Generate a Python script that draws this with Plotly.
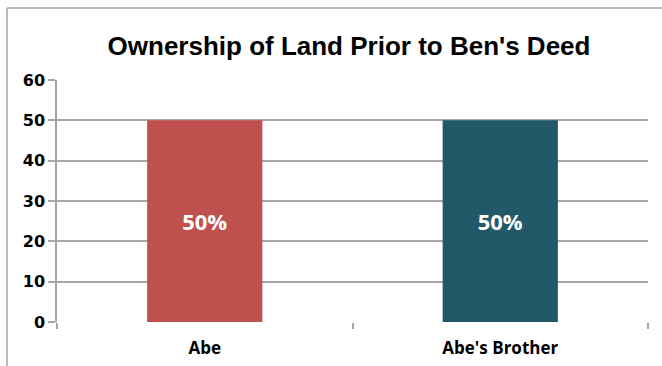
import plotly.graph_objects as go

categories = ["Abe", "Abe's Brother"]
values = [50, 50]
labels = ["50%", "50%"]
colors = ["#C0504D", "#215968"]
title = "Ownership of Land Prior to Ben's Deed"

fig = go.Figure()
fig.add_trace(go.Bar(
    x=categories, y=values, text=labels,
    marker=dict(color=colors, line=dict(width=0)),
    width=0.39,
    textposition="inside", insidetextanchor="middle",
    textfont=dict(family="Open Sans", size=22, color="white"),
    texttemplate="<b>%{text}</b>",
    hoverinfo="skip",
))

L, R, T, B = 57, 14, 80, 44
W, H = 662, 366
pw, ph = W - L - R, H - T - B

def px(x):
    return (x - L) / pw

def py(y):
    return (H - B - y) / ph

fig.update_layout(
    width=W, height=H,
    margin=dict(l=L, r=R, t=T, b=B, autoexpand=False),
    paper_bgcolor="white", plot_bgcolor="white",
    showlegend=False,
    title=dict(text="<b>" + title + "</b>", x=(100 + 598) / 2 / W, xanchor="center",
               y=1 - 46 / H, yanchor="middle",
               font=dict(family="Liberation Sans", size=26, color="black")),
    xaxis=dict(
        type="category", showgrid=False, showline=False, automargin=False,
        ticks="outside", tickson="boundaries", ticklen=6, tickcolor="#A6A6A6",
        tickwidth=1.5,
        tickfont=dict(family="Open Sans", size=17, color="black", weight="bold"),
        zeroline=False,
    ),
    yaxis=dict(
        range=[0, 60], dtick=10, showgrid=True, gridcolor="#A6A6A6", gridwidth=1.5,
        showline=True, linecolor="#A6A6A6", linewidth=1.5, automargin=False,
        ticks="outside", ticklen=7, tickcolor="#A6A6A6", tickwidth=1.5,
        tickfont=dict(family="DejaVu Sans", size=16, color="black", weight="bold"),
        zeroline=False,
    ),
    shapes=[
        dict(type="line", xref="paper", yref="paper",
             x0=px(7), x1=px(7), y0=py(8), y1=py(366),
             line=dict(color="#A6A6A6", width=1.5)),
        dict(type="line", xref="paper", yref="paper",
             x0=px(7), x1=px(662), y0=py(8), y1=py(8),
             line=dict(color="#A6A6A6", width=1.5)),
    ],
)
fig.update_xaxes(ticklabelstandoff=14)

fig.write_html("out.html", config={"displayModeBar": False},
               post_script="document.body.style.margin='0';document.body.style.overflow='hidden';")
